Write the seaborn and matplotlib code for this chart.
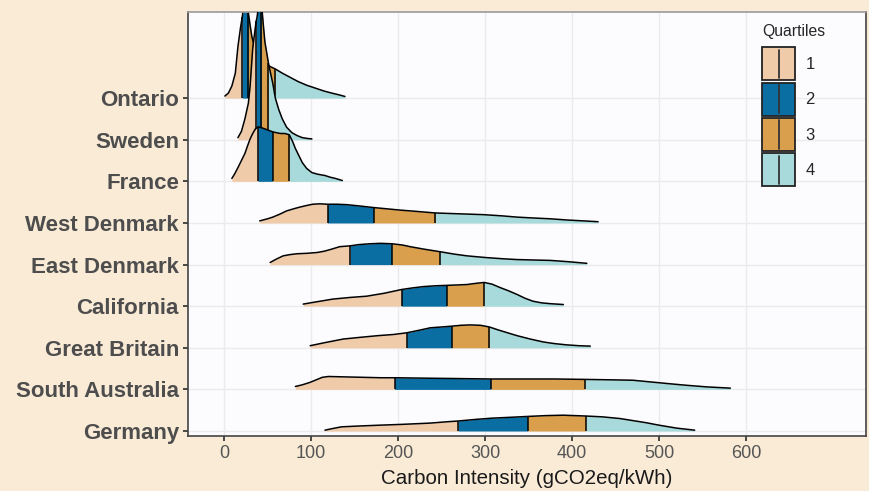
import matplotlib
matplotlib.use("Agg")
import matplotlib.pyplot as plt
import numpy as np
import seaborn as sns
from matplotlib.legend_handler import HandlerPatch
from matplotlib.lines import Line2D
from matplotlib.patches import Patch, Rectangle

# rows from bottom (1) to top (9)
REGIONS = ["Germany", "South Australia", "Great Britain", "California",
           "East Denmark", "West Denmark", "France", "Sweden", "Ontario"]

# density outline: x in gCO2eq/kWh, height in row units
ontario_x = [1, 5, 9, 13, 16, 19, 21, 23, 25, 27, 28, 30, 32, 36, 40, 45, 53,
             59, 67, 76, 85, 95, 105, 115, 124, 132, 139]
ontario_h = [0.05, 0.12, 0.29, 0.6, 1.24, 1.7, 1.95, 2.3, 2.4, 2.3, 2.05, 1.75,
             1.48, 1.15, 0.98, 0.87, 0.76, 0.7, 0.6, 0.5, 0.4, 0.31, 0.24,
             0.17, 0.12, 0.08, 0.04]
ontario_q = [21, 28, 59]

sweden_x = [16, 20, 24, 28, 30, 33, 36, 37, 38, 39, 41, 43, 44, 45, 47, 49,
            51, 54, 56, 59, 63, 67, 72, 78, 84, 90, 96, 101]
sweden_h = [0.05, 0.2, 0.5, 0.88, 1.29, 2.2, 2.7, 2.85, 2.95, 3.1, 3.3, 3.2,
            3.05, 2.8, 2.35, 2.1, 1.85, 1.55, 1.36, 1.0, 0.72, 0.5, 0.3, 0.17,
            0.1, 0.05, 0.03, 0.02]
sweden_q = [37, 43, 51]

france_x = [9, 12, 16, 20, 24, 27, 30, 33, 36, 39, 43, 47, 52, 56, 60, 65, 70,
            75, 79, 82, 86, 90, 95, 101, 108, 116, 122, 128, 136]
france_h = [0.07, 0.17, 0.33, 0.5, 0.67, 0.85, 1.02, 1.15, 1.26, 1.31, 1.29,
            1.26, 1.22, 1.19, 1.17, 1.15, 1.15, 1.12, 0.95, 0.79, 0.62, 0.45,
            0.31, 0.21, 0.17, 0.14, 0.1, 0.07, 0.02]
france_q = [39, 56, 75]

west_dk_x = [41, 50, 56, 64, 72, 80, 87, 95, 102, 110, 119, 130, 141, 155, 172,
             187, 202, 220, 243, 270, 298, 320, 337, 355, 375, 395, 413, 430]
west_dk_h = [0.05, 0.1, 0.14, 0.21, 0.29, 0.34, 0.38, 0.42, 0.45, 0.46, 0.45,
             0.45, 0.44, 0.41, 0.37, 0.34, 0.31, 0.28, 0.24, 0.22, 0.2, 0.17,
             0.14, 0.12, 0.1, 0.07, 0.05, 0.03]
west_dk_q = [119, 172, 243]

east_dk_x = [53, 60, 68, 76, 84, 95, 107, 115, 122, 133, 145, 155, 168, 180,
             193, 205, 214, 230, 248, 265, 279, 300, 320, 337, 355, 375, 395, 417]
east_dk_h = [0.05, 0.13, 0.21, 0.24, 0.26, 0.27, 0.29, 0.32, 0.36, 0.43, 0.45,
             0.48, 0.5, 0.51, 0.5, 0.47, 0.43, 0.37, 0.31, 0.25, 0.21, 0.17,
             0.14, 0.12, 0.11, 0.1, 0.07, 0.03]
east_dk_q = [145, 193, 248]

california_x = [91, 105, 125, 145, 164, 184, 204, 217, 229, 243, 256, 268, 279,
                290, 299, 308, 317, 327, 337, 346, 355, 365, 375, 390]
california_h = [0.05, 0.1, 0.17, 0.21, 0.24, 0.31, 0.4, 0.44, 0.47, 0.49, 0.5,
                0.51, 0.52, 0.55, 0.57, 0.53, 0.45, 0.37, 0.28, 0.19, 0.12,
                0.08, 0.06, 0.04]
california_q = [204, 256, 299]

britain_x = [99, 115, 137, 156, 176, 195, 210, 224, 237, 250, 262, 272, 283,
             295, 305, 315, 326, 337, 352, 367, 380, 394, 408, 421]
britain_h = [0.05, 0.12, 0.21, 0.25, 0.29, 0.32, 0.36, 0.42, 0.48, 0.5, 0.52,
             0.54, 0.55, 0.54, 0.5, 0.43, 0.36, 0.29, 0.21, 0.14, 0.1, 0.07,
             0.05, 0.04]
britain_q = [210, 262, 305]

s_australia_x = [82, 90, 99, 106, 113, 120, 140, 160, 180, 196, 230, 270, 307,
                 340, 380, 415, 445, 470, 490, 510, 531, 555, 582]
s_australia_h = [0.07, 0.11, 0.17, 0.23, 0.29, 0.31, 0.3, 0.29, 0.28, 0.28,
                 0.27, 0.26, 0.25, 0.25, 0.25, 0.24, 0.23, 0.22, 0.18, 0.14,
                 0.1, 0.06, 0.03]
s_australia_q = [196, 307, 415]

germany_x = [116, 125, 135, 155, 179, 205, 237, 255, 269, 290, 309, 330, 349,
             370, 390, 416, 435, 455, 470, 485, 500, 520, 541]
germany_h = [0.02, 0.06, 0.1, 0.12, 0.14, 0.16, 0.19, 0.22, 0.24, 0.28, 0.31,
             0.33, 0.35, 0.37, 0.38, 0.36, 0.34, 0.3, 0.25, 0.2, 0.14, 0.07,
             0.02]
germany_q = [269, 349, 416]

RIDGES = {
    "Ontario": (ontario_x, ontario_h, ontario_q),
    "Sweden": (sweden_x, sweden_h, sweden_q),
    "France": (france_x, france_h, france_q),
    "West Denmark": (west_dk_x, west_dk_h, west_dk_q),
    "East Denmark": (east_dk_x, east_dk_h, east_dk_q),
    "California": (california_x, california_h, california_q),
    "Great Britain": (britain_x, britain_h, britain_q),
    "South Australia": (s_australia_x, s_australia_h, s_australia_q),
    "Germany": (germany_x, germany_h, germany_q),
}

QUARTILE_LABELS = ["1", "2", "3", "4"]
QUARTILE_COLORS = ["#EFCBAA", "#0A6EA3", "#DA9F4C", "#A8DADB"]
X_TICKS = [0, 100, 200, 300, 400, 500, 600]

sns.set_theme(style="whitegrid")
plt.rcParams["font.family"] = ["Liberation Sans", "DejaVu Sans"]

BG = "#FAEBD7"


class QuartileKey(HandlerPatch):
    """Filled box with the quantile tick, like the ggridges key."""

    def create_artists(self, legend, orig_handle, xdescent, ydescent,
                       width, height, fontsize, trans):
        rect = Rectangle((-xdescent, -ydescent), width, height,
                         facecolor=orig_handle.get_facecolor(),
                         edgecolor="#222222", lw=1.3, transform=trans)
        mid = -xdescent + width / 2
        tick = Line2D([mid, mid], [-ydescent + 0.07 * height,
                                   -ydescent + 0.93 * height],
                      color="#333333", lw=1.3, transform=trans)
        return [rect, tick]


fig = plt.figure(figsize=(8.7, 4.91), dpi=100, facecolor=BG)
ax = fig.add_axes([188 / 870, 55 / 491, 678 / 870, 424 / 491])
ax.set_facecolor("#FCFBFD")

# top rows first so lower ridges overlap them
for pos in range(len(REGIONS), 0, -1):
    name = REGIONS[pos - 1]
    xs, hs, qs = RIDGES[name]
    xs = np.array(xs, dtype=float)
    hs = np.array(hs, dtype=float)
    z = 2 + (len(REGIONS) - pos)
    bounds = [xs[0]] + list(qs) + [xs[-1]]
    for k in range(4):
        m = (xs >= bounds[k]) & (xs <= bounds[k + 1])
        ax.fill_between(xs[m], pos, pos + hs[m], color=QUARTILE_COLORS[k],
                        lw=0, zorder=z)
    for qv in qs:
        hq = hs[list(xs).index(qv)]
        ax.plot([qv, qv], [pos, pos + hq], color="black", lw=1.1,
                zorder=z + 0.3, solid_capstyle="butt")
    sns.lineplot(x=xs, y=pos + hs, ax=ax, color="black", linewidth=1.1,
                 sort=False, estimator=None, zorder=z + 0.4)

ax.set_xlim(-41.4, 737.9)
ax.set_ylim(0.88, 11.07)
ax.set_xticks(X_TICKS)
ax.set_yticks(range(1, len(REGIONS) + 1))
ax.set_yticklabels(REGIONS, fontsize=16, fontweight="bold", color="#4D4D4D")
ax.tick_params(axis="x", labelsize=13, labelcolor="#555555", length=3.5,
               color="#333333", pad=3, bottom=True)
ax.tick_params(axis="y", length=3.5, color="#333333", pad=3, left=True)
ax.grid(True, color="#EBEBEB", lw=1.0)
ax.set_axisbelow(True)
ax.set_xlabel("Carbon Intensity (gCO2eq/kWh)", fontsize=14.8,
              color="#1A1A1A", labelpad=5)
ax.set_ylabel("")
for side, spine in ax.spines.items():
    spine.set_visible(True)
    spine.set_color("#444444" if side != "top" else "#9A9A9A")
    spine.set_linewidth(1.2)

handles = [Patch(facecolor=c, label=l)
           for c, l in zip(QUARTILE_COLORS, QUARTILE_LABELS)]
leg = ax.legend(handles=handles, title="Quartiles", loc="upper left",
                bbox_to_anchor=((762 - 188) / 678, (436 - 24) / 424),
                frameon=False, fontsize=12, title_fontsize=11.3,
                handlelength=2.0, handleheight=2.67, labelspacing=0.14,
                handletextpad=0.6, borderpad=0, borderaxespad=0,
                alignment="left", handler_map={Patch: QuartileKey()})
leg._legend_box.sep = 6  # extra room under the title
leg.set_zorder(20)

fig.savefig("out.png", dpi=100, facecolor=BG)
